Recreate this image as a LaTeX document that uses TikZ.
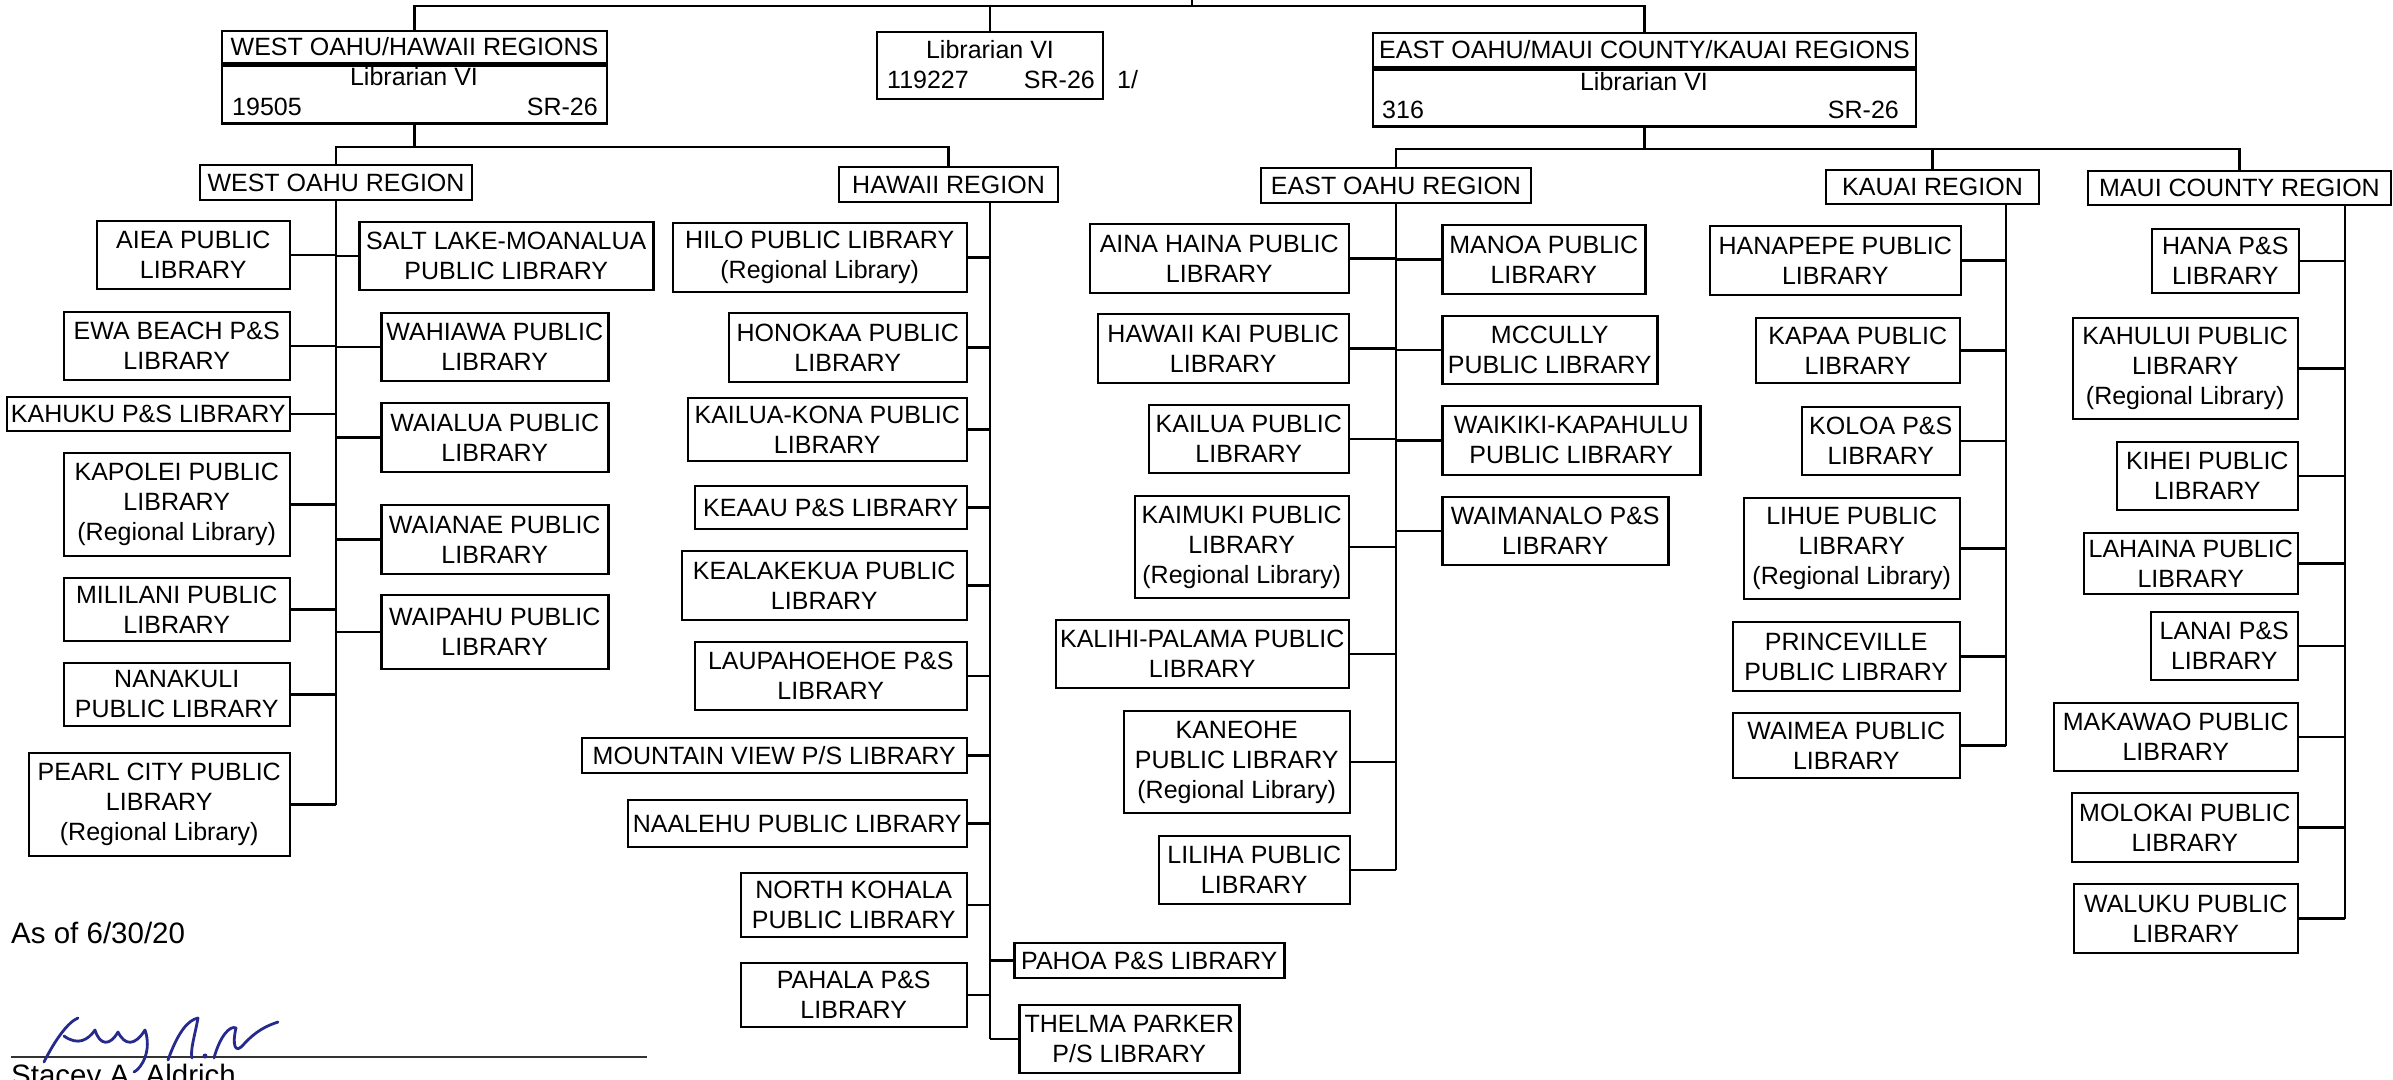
\documentclass[tikz,border=0pt]{standalone}
\usepackage{fontspec}
\setmainfont{Liberation Sans}
\definecolor{inchiostro}{RGB}{38,42,140}

\begin{document}
\begin{tikzpicture}[x=1pt,y=-1pt,
	box/.style={draw, line width=2.5pt, align=center, inner sep=1pt, font=\fontsize{25}{30}\selectfont},
	txt/.style={inner sep=0pt, font=\fontsize{25}{30}\selectfont},
	link/.style={line width=2.2pt}]
	%\draw [help lines, step=100] (0,0) grid (2393,1079);
	\useasboundingbox (0,0) rectangle (2393,1079);

	% Direzione
	\node[box, minimum width=385pt, minimum height=32pt] (westtitle) at (414.5,47) {WEST OAHU/HAWAII REGIONS};
	\node[box, minimum width=385pt, minimum height=58pt, anchor=north] (westbody) at (westtitle.south) {};
	\node[txt] (westvi) at (414,77) {Librarian VI};
	\node[txt, anchor=west] (westno) at (232,107) {19505};
	\node[txt, anchor=east] (westsr) at (598,107) {SR-26};

	\node[box, minimum width=226pt, minimum height=67pt] (libvi) at (990,65.5) {};
	\node[txt] (libvitit) at (990,50) {Librarian VI};
	\node[txt, anchor=west] (libvino) at (887,80) {119227};
	\node[txt, anchor=east] (libvisr) at (1095,80) {SR-26};
	\node[txt, anchor=west] (nota) at (1117,80) {1/};

	\node[box, minimum width=543pt, minimum height=34pt] (easttitle) at (1644.5,50) {EAST OAHU/MAUI COUNTY/KAUAI REGIONS};
	\node[box, minimum width=543pt, minimum height=57pt, anchor=north] (eastbody) at (easttitle.south) {};
	\node[txt] (eastvi) at (1644,82) {Librarian VI};
	\node[txt, anchor=west] (eastno) at (1382,110) {316};
	\node[txt, anchor=east] (eastsr) at (1899,110) {SR-26};

	\coordinate (up) at (1192,0);
	\draw[link] (up) -- ++(0,7);
	\draw[link] (westtitle.north) -- ++(0,-24) -| (easttitle.north);
	\draw[link] (libvi.north) -- ++(0,-25);

	% Regioni
	\node[box, minimum width=272pt, minimum height=35pt] (westreg) at (336,182.5) {WEST OAHU REGION};
	\node[box, minimum width=219pt, minimum height=35pt] (hawreg) at (948.5,184.5) {HAWAII REGION};
	\node[box, minimum width=270pt, minimum height=35pt] (eastreg) at (1396,185.5) {EAST OAHU REGION};
	\node[box, minimum width=213pt, minimum height=34pt] (kauaireg) at (1932.5,187) {KAUAI REGION};
	\node[box, minimum width=303pt, minimum height=34pt] (mauireg) at (2239.5,188) {MAUI COUNTY REGION};

	\draw[link] (westbody.south) -- ++(0,22) coordinate (wb);
	\draw[link] (westreg.north) |- (wb) -| (hawreg.north);
	\draw[link] (eastbody.south) -- ++(0,21) coordinate (eb);
	\draw[link] (eastreg.north) |- (mauireg.north |- eb) -- (mauireg.north);
	\draw[link] (eb) -| (kauaireg.north);

	% West Oahu
	\node[box, anchor=east, minimum width=193pt, minimum height=68pt] (aiea) at (291,255) {AIEA PUBLIC\\LIBRARY};
	\node[box, anchor=east, minimum width=226pt, minimum height=68pt] (ewa) at (291,346) {EWA BEACH P\&S\\LIBRARY};
	\node[box, anchor=east, minimum width=283pt, minimum height=34pt] (kahuku) at (291,414) {KAHUKU P\&S LIBRARY};
	\node[box, anchor=east, minimum width=226pt, minimum height=103pt] (kapolei) at (291,504.5) {KAPOLEI PUBLIC\\LIBRARY\\(Regional Library)};
	\node[box, anchor=east, minimum width=226pt, minimum height=63pt] (mililani) at (291,609.5) {MILILANI PUBLIC\\LIBRARY};
	\node[box, anchor=east, minimum width=226pt, minimum height=63pt] (nanakuli) at (291,694.5) {NANAKULI\\PUBLIC LIBRARY};
	\node[box, anchor=east, minimum width=261pt, minimum height=103pt] (pearlcity) at (291,804.5) {PEARL CITY PUBLIC\\LIBRARY\\(Regional Library)};
	\node[box, anchor=west, minimum width=294pt, minimum height=68pt] (saltlake) at (358,256) {SALT LAKE-MOANALUA\\PUBLIC LIBRARY};
	\node[box, anchor=west, minimum width=227pt, minimum height=68pt] (wahiawa) at (380,347) {WAHIAWA PUBLIC\\LIBRARY};
	\node[box, anchor=west, minimum width=227pt, minimum height=69pt] (waialua) at (380,437.5) {WAIALUA PUBLIC\\LIBRARY};
	\node[box, anchor=west, minimum width=227pt, minimum height=69pt] (waianae) at (380,539.5) {WAIANAE PUBLIC\\LIBRARY};
	\node[box, anchor=west, minimum width=227pt, minimum height=74pt] (waipahu) at (380,632) {WAIPAHU PUBLIC\\LIBRARY};

	\draw[link] (westreg.south) -- (westreg.south |- pearlcity.east)
		(aiea.east) -- (aiea.east -| westreg.south)
		(ewa.east) -- (ewa.east -| westreg.south)
		(kahuku.east) -- (kahuku.east -| westreg.south)
		(kapolei.east) -- (kapolei.east -| westreg.south)
		(mililani.east) -- (mililani.east -| westreg.south)
		(nanakuli.east) -- (nanakuli.east -| westreg.south)
		(pearlcity.east) -- (pearlcity.east -| westreg.south)
		(saltlake.west) -- (saltlake.west -| westreg.south)
		(wahiawa.west) -- (wahiawa.west -| westreg.south)
		(waialua.west) -- (waialua.west -| westreg.south)
		(waianae.west) -- (waianae.west -| westreg.south)
		(waipahu.west) -- (waipahu.west -| westreg.south);

	% Hawaii
	\node[box, anchor=east, minimum width=294pt, minimum height=69pt] (hilo) at (968,257.5) {HILO PUBLIC LIBRARY\\(Regional Library)};
	\node[box, anchor=east, minimum width=238pt, minimum height=69pt] (honokaa) at (968,347.5) {HONOKAA PUBLIC\\LIBRARY};
	\node[box, anchor=east, minimum width=279pt, minimum height=63pt] (kailuakona) at (968,429.5) {KAILUA-KONA PUBLIC\\LIBRARY};
	\node[box, anchor=east, minimum width=272pt, minimum height=43pt] (keaau) at (968,507.5) {KEAAU P\&S LIBRARY};
	\node[box, anchor=east, minimum width=285pt, minimum height=69pt] (kealakekua) at (968,585.5) {KEALAKEKUA PUBLIC\\LIBRARY};
	\node[box, anchor=east, minimum width=272pt, minimum height=68pt] (laupahoehoe) at (968,676) {LAUPAHOEHOE P\&S\\LIBRARY};
	\node[box, anchor=east, minimum width=385pt, minimum height=35pt] (mtnview) at (968,755.5) {MOUNTAIN VIEW P/S LIBRARY};
	\node[box, anchor=east, minimum width=339pt, minimum height=47pt] (naalehu) at (968,823.5) {NAALEHU PUBLIC LIBRARY};
	\node[box, anchor=east, minimum width=226pt, minimum height=64pt] (nkohala) at (968,905) {NORTH KOHALA\\PUBLIC LIBRARY};
	\node[box, anchor=east, minimum width=226pt, minimum height=64pt] (pahala) at (968,995) {PAHALA P\&S\\LIBRARY};
	\node[box, anchor=west, minimum width=270pt, minimum height=35pt] (pahoa) at (1013,960.5) {PAHOA P\&S LIBRARY};
	\node[box, anchor=west, minimum width=220pt, minimum height=68pt] (thelma) at (1018,1039) {THELMA PARKER\\P/S LIBRARY};

	\coordinate (htr) at (990,202);
	\draw[link] (htr) -- (htr |- thelma.west)
		(hilo.east) -- (hilo.east -| htr)
		(honokaa.east) -- (honokaa.east -| htr)
		(kailuakona.east) -- (kailuakona.east -| htr)
		(keaau.east) -- (keaau.east -| htr)
		(kealakekua.east) -- (kealakekua.east -| htr)
		(laupahoehoe.east) -- (laupahoehoe.east -| htr)
		(mtnview.east) -- (mtnview.east -| htr)
		(naalehu.east) -- (naalehu.east -| htr)
		(nkohala.east) -- (nkohala.east -| htr)
		(pahala.east) -- (pahala.east -| htr)
		(pahoa.west) -- (pahoa.west -| htr)
		(thelma.west) -- (thelma.west -| htr);

	% East Oahu
	\node[box, anchor=east, minimum width=259pt, minimum height=69pt] (ainahaina) at (1350,258.5) {AINA HAINA PUBLIC\\LIBRARY};
	\node[box, anchor=east, minimum width=251pt, minimum height=69pt] (hawaiikai) at (1350,348.5) {HAWAII KAI PUBLIC\\LIBRARY};
	\node[box, anchor=east, minimum width=200pt, minimum height=68pt] (kailua) at (1350,439) {KAILUA PUBLIC\\LIBRARY};
	\node[box, anchor=east, minimum width=214pt, minimum height=102pt] (kaimuki) at (1350,547) {KAIMUKI PUBLIC\\LIBRARY\\(Regional Library)};
	\node[box, anchor=east, minimum width=293pt, minimum height=68pt] (kalihi) at (1350,654) {KALIHI-PALAMA PUBLIC\\LIBRARY};
	\node[box, anchor=east, minimum width=226pt, minimum height=102pt] (kaneohe) at (1351,762) {KANEOHE\\PUBLIC LIBRARY\\(Regional Library)};
	\node[box, anchor=east, minimum width=191pt, minimum height=68pt] (liliha) at (1351,870) {LILIHA PUBLIC\\LIBRARY};
	\node[box, anchor=west, minimum width=203pt, minimum height=69pt] (manoa) at (1441,259.5) {MANOA PUBLIC\\LIBRARY};
	\node[box, anchor=west, minimum width=215pt, minimum height=68pt] (mccully) at (1441,350) {MCCULLY\\PUBLIC LIBRARY};
	\node[box, anchor=west, minimum width=258pt, minimum height=69pt] (waikiki) at (1441,440.5) {WAIKIKI-KAPAHULU\\PUBLIC LIBRARY};
	\node[box, anchor=west, minimum width=226pt, minimum height=68pt] (waimanalo) at (1441,531) {WAIMANALO P\&S\\LIBRARY};

	\draw[link] (eastreg.south) -- (eastreg.south |- liliha.east)
		(ainahaina.east) -- (ainahaina.east -| eastreg.south)
		(hawaiikai.east) -- (hawaiikai.east -| eastreg.south)
		(kailua.east) -- (kailua.east -| eastreg.south)
		(kaimuki.east) -- (kaimuki.east -| eastreg.south)
		(kalihi.east) -- (kalihi.east -| eastreg.south)
		(kaneohe.east) -- (kaneohe.east -| eastreg.south)
		(liliha.east) -- (liliha.east -| eastreg.south)
		(manoa.west) -- (manoa.west -| eastreg.south)
		(mccully.west) -- (mccully.west -| eastreg.south)
		(waikiki.west) -- (waikiki.west -| eastreg.south)
		(waimanalo.west) -- (waimanalo.west -| eastreg.south);

	% Kauai
	\node[box, anchor=east, minimum width=251pt, minimum height=69pt] (hanapepe) at (1962,260.5) {HANAPEPE PUBLIC\\LIBRARY};
	\node[box, anchor=east, minimum width=204pt, minimum height=65pt] (kapaa) at (1961,350.5) {KAPAA PUBLIC\\LIBRARY};
	\node[box, anchor=east, minimum width=158pt, minimum height=68pt] (koloa) at (1961,441) {KOLOA P\&S\\LIBRARY};
	\node[box, anchor=east, minimum width=216pt, minimum height=101pt] (lihue) at (1961,548.5) {LIHUE PUBLIC\\LIBRARY\\(Regional Library)};
	\node[box, anchor=east, minimum width=227pt, minimum height=69pt] (princeville) at (1961,656.5) {PRINCEVILLE\\PUBLIC LIBRARY};
	\node[box, anchor=east, minimum width=227pt, minimum height=65pt] (waimea) at (1961,745.5) {WAIMEA PUBLIC\\LIBRARY};

	\coordinate (ktr) at (2006,204);
	\draw[link] (ktr) -- (ktr |- waimea.east)
		(hanapepe.east) -- (hanapepe.east -| ktr)
		(kapaa.east) -- (kapaa.east -| ktr)
		(koloa.east) -- (koloa.east -| ktr)
		(lihue.east) -- (lihue.east -| ktr)
		(princeville.east) -- (princeville.east -| ktr)
		(waimea.east) -- (waimea.east -| ktr);

	% Maui
	\node[box, anchor=east, minimum width=147pt, minimum height=64pt] (hana) at (2300,261) {HANA P\&S\\LIBRARY};
	\node[box, anchor=east, minimum width=225pt, minimum height=101pt] (kahului) at (2299,368.5) {KAHULUI PUBLIC\\LIBRARY\\(Regional Library)};
	\node[box, anchor=east, minimum width=181pt, minimum height=68pt] (kihei) at (2299,476) {KIHEI PUBLIC\\LIBRARY};
	\node[box, anchor=east, minimum width=214pt, minimum height=61pt] (lahaina) at (2299,563.5) {LAHAINA PUBLIC\\LIBRARY};
	\node[box, anchor=east, minimum width=147pt, minimum height=68pt] (lanai) at (2299,646) {LANAI P\&S\\LIBRARY};
	\node[box, anchor=east, minimum width=244pt, minimum height=68pt] (makawao) at (2299,737) {MAKAWAO PUBLIC\\LIBRARY};
	\node[box, anchor=east, minimum width=226pt, minimum height=69pt] (molokai) at (2299,827.5) {MOLOKAI PUBLIC\\LIBRARY};
	\node[box, anchor=east, minimum width=224pt, minimum height=69pt] (waluku) at (2299,918.5) {WALUKU PUBLIC\\LIBRARY};

	\coordinate (mtr) at (2345,205);
	\draw[link] (mtr) -- (mtr |- waluku.east)
		(hana.east) -- (hana.east -| mtr)
		(kahului.east) -- (kahului.east -| mtr)
		(kihei.east) -- (kihei.east -| mtr)
		(lahaina.east) -- (lahaina.east -| mtr)
		(lanai.east) -- (lanai.east -| mtr)
		(makawao.east) -- (makawao.east -| mtr)
		(molokai.east) -- (molokai.east -| mtr)
		(waluku.east) -- (waluku.east -| mtr);

	% Data e firma
	\node[anchor=west, inner sep=0pt, font=\fontsize{29.5}{35}\selectfont] (asof) at (11,933) {As of 6/30/20};
	\draw [line width=2.2pt, black!80] (11,1057) -- (647,1057);
	\draw [inchiostro, line width=2.8pt, line cap=round, line join=round]
		(44,1062) .. controls (55,1040) and (68,1022) .. (78,1018)
		(64,1036) .. controls (78,1046) and (88,1040) .. (95,1030) .. controls (100,1046) and (110,1046) .. (118,1032)
			.. controls (125,1046) and (135,1046) .. (145,1030) .. controls (152,1050) and (142,1068) .. (134,1072)
		(168,1060) .. controls (178,1032) and (188,1020) .. (198,1018) .. controls (195,1035) and (190,1050) .. (192,1058)
		(214,1058) .. controls (220,1036) and (230,1025) .. (236,1028) .. controls (232,1045) and (235,1055) .. (244,1044)
			.. controls (256,1031) and (266,1026) .. (278,1022);
	\fill [inchiostro] (205,1056) circle (2.5pt);
	\node[anchor=base west, inner sep=0pt, font=\fontsize{29.5}{35}\selectfont] (firma) at (11,1085) {Stacey A. Aldrich};
\end{tikzpicture}
\end{document}
